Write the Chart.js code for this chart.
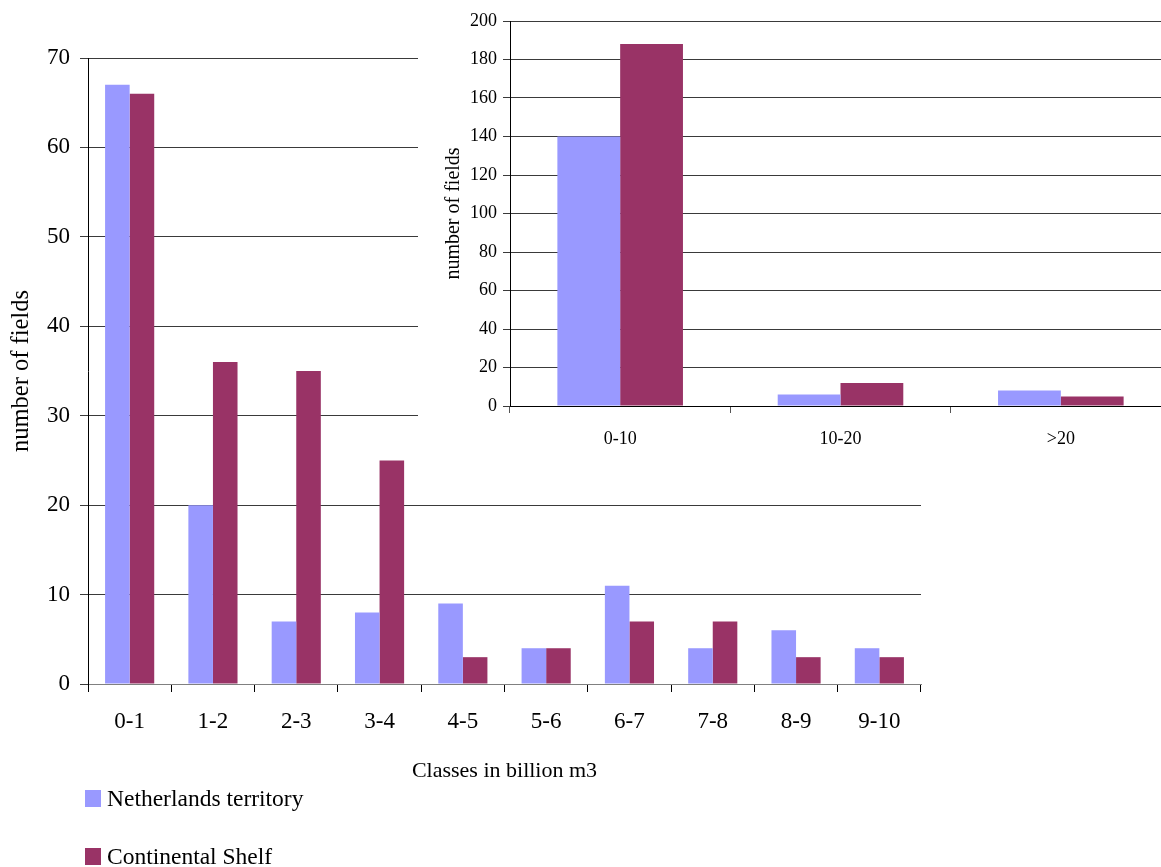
<!DOCTYPE html>
<html>
<head>
<meta charset="utf-8">
<script src="https://cdn.jsdelivr.net/npm/chart.js@4.4.1/dist/chart.umd.min.js"></script>
<style>
  html, body { margin: 0; padding: 0; background: #fff; overflow: hidden; width: 1161px; height: 867px; }
  #mainBox { position: absolute; left: 0; top: 0; width: 940px; height: 790px; }
  #insetBox { position: absolute; left: 418px; top: 0; width: 760px; height: 462px; background: #fff; }
  #legend { position: absolute; left: 85px; top: 784px; font-family: "Liberation Serif", "Times New Roman", serif; font-size: 23.5px; color: #000; }
  .item { position: relative; height: 29px; line-height: 29px; padding-left: 22px; white-space: nowrap; }
  .item + .item { margin-top: 29px; }
  .swatch { position: absolute; left: 0; top: 6px; width: 16px; height: 17px; }
</style>
</head>
<body>
<div id="mainBox"><canvas id="mainChart"></canvas></div>
<div id="insetBox"><canvas id="insetChart"></canvas></div>
<div id="legend"></div>
<script>
// Field size classes (billion m3) and number of fields per class
const sizeClasses = ['0-1', '1-2', '2-3', '3-4', '4-5', '5-6', '6-7', '7-8', '8-9', '9-10'];
const territoryCounts = [67, 20, 7, 8, 9, 4, 11, 4, 6, 4];
const shelfCounts = [66, 36, 35, 25, 3, 4, 7, 7, 3, 3];

// Coarser classes shown in the small chart
const wideClasses = ['0-10', '10-20', '>20'];
const territoryWide = [140, 6, 8];
const shelfWide = [188, 12, 5];

const seriesNames = ['Netherlands territory', 'Continental Shelf'];
const seriesColors = ['#9999FF', '#993366'];

const serif = '"Liberation Serif", "Times New Roman", serif';

function makeDatasets(a, b, catPct) {
  return [a, b].map((vals, i) => ({
    label: seriesNames[i],
    data: vals,
    backgroundColor: seriesColors[i],
    borderWidth: 0,
    categoryPercentage: catPct,
    barPercentage: 1.0
  }));
}

// Main chart
new Chart(document.getElementById('mainChart'), {
  type: 'bar',
  data: { labels: sizeClasses, datasets: makeDatasets(territoryCounts, shelfCounts, 0.59) },
  options: {
    responsive: true,
    maintainAspectRatio: false,
    animation: false,
    layout: { padding: { top: 58, right: 19, bottom: 6, left: 0 } },
    plugins: { legend: { display: false }, tooltip: { enabled: false } },
    scales: {
      x: {
        grid: { display: true, offset: true, drawOnChartArea: false, drawTicks: true, tickLength: 8, color: '#000' },
        border: { display: true, color: '#808080', width: 1 },
        ticks: { color: '#000', font: { family: serif, size: 23 }, padding: 16 },
        title: { display: true, text: 'Classes in billion m3', color: '#000', font: { family: serif, size: 22 }, padding: { top: 10, bottom: 0 } },
        afterFit: s => { s.height = 100; }
      },
      y: {
        min: 0, max: 70,
        ticks: { stepSize: 10, color: '#000', font: { family: serif, size: 23 }, padding: 10 },
        grid: { color: '#3a3a3a', lineWidth: 1, tickLength: 8, drawTicks: true },
        border: { display: true, color: '#000', width: 1 },
        title: { display: true, text: 'number of fields', color: '#000', font: { family: serif, size: 24.5 }, padding: { top: 7, bottom: 0 } },
        afterFit: s => { s.width = 88; }
      }
    }
  }
});

// Inset chart
new Chart(document.getElementById('insetChart'), {
  type: 'bar',
  data: { labels: wideClasses, datasets: makeDatasets(territoryWide, shelfWide, 0.57) },
  options: {
    responsive: true,
    maintainAspectRatio: false,
    animation: false,
    layout: { padding: { top: 21, right: 7, bottom: 0, left: 0 } },
    plugins: { legend: { display: false }, tooltip: { enabled: false } },
    scales: {
      x: {
        grid: { display: true, offset: true, drawOnChartArea: false, drawTicks: true, tickLength: 7, color: '#555' },
        border: { display: true, color: '#000', width: 1 },
        ticks: { color: '#000', font: { family: serif, size: 18 }, padding: 15 },
        afterFit: s => { s.height = 56; }
      },
      y: {
        min: 0, max: 200,
        ticks: { stepSize: 20, color: '#000', font: { family: serif, size: 18 }, padding: 6 },
        grid: { color: '#3a3a3a', lineWidth: 1, tickLength: 7, drawTicks: true },
        border: { display: true, color: '#000', width: 1 },
        title: { display: true, text: 'number of fields', color: '#000', font: { family: serif, size: 20 }, padding: { top: 24, bottom: 0 } },
        afterFit: s => { s.width = 92; }
      }
    }
  }
});

// Legend, one entry per line
const legendEl = document.getElementById('legend');
seriesNames.forEach((name, i) => {
  const row = document.createElement('div');
  row.className = 'item';
  const sw = document.createElement('span');
  sw.className = 'swatch';
  sw.style.background = seriesColors[i];
  row.appendChild(sw);
  row.appendChild(document.createTextNode(name));
  legendEl.appendChild(row);
});
</script>
</body>
</html>
